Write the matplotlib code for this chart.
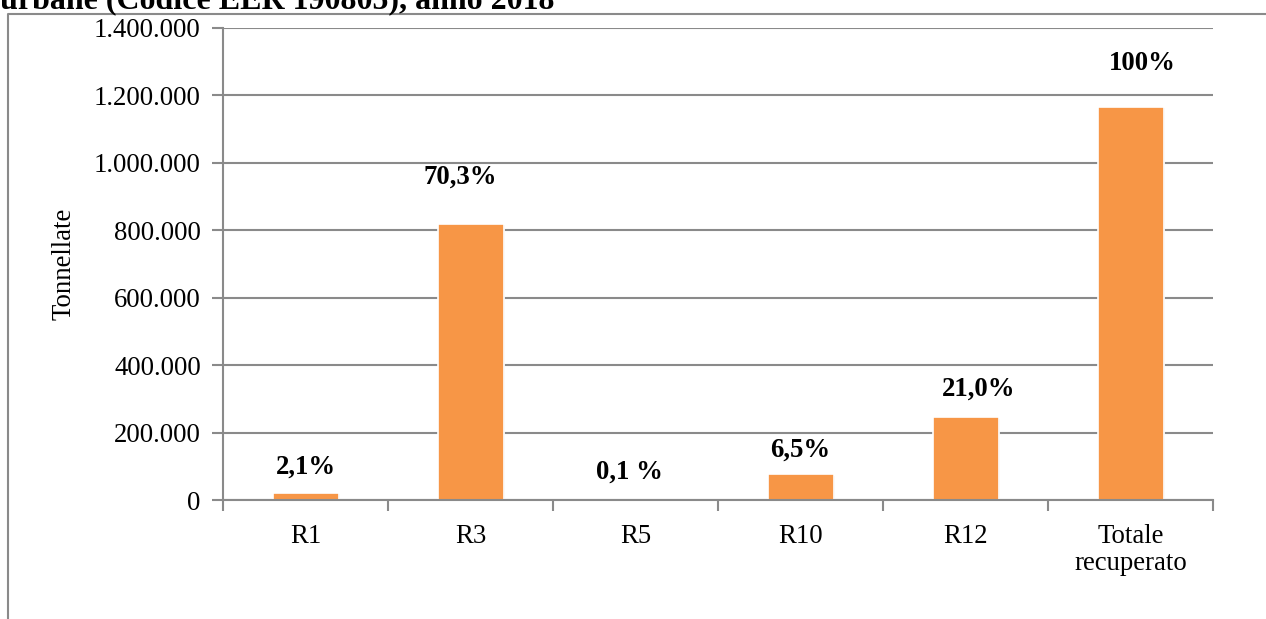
import matplotlib.pyplot as plt
from matplotlib.lines import Line2D
from matplotlib.ticker import FuncFormatter
import matplotlib.patheffects as pe

# data
categorie = ["R1", "R3", "R5", "R10", "R12", "Totale\nrecuperato"]
tonnellate = [21000, 820000, 1200, 75800, 245000, 1166000]
percentuali = ["2,1%", "70,3%", "0,1 %", "6,5%", "21,0%", "100%"]

# label offsets (pixels) from bar top centre to label centre
label_dx = [0, -10, -6, 0, 13, 12]
label_dy = [26, 46, 27, 24, 28, 43]

plt.rcParams['font.family'] = ['Liberation Serif', 'DejaVu Serif']
fs = 19.3

fig = plt.figure(figsize=(12.66, 6.19), dpi=100)
ax = fig.add_axes([223/1266, 1 - 500/619, (1213 - 223)/1266, (500 - 28)/619])

grigio = '#8a8a8a'
x = range(len(categorie))
ax.bar(x, tonnellate, width=0.40, color='#F79646', edgecolor='white', linewidth=1.2, zorder=3,
       path_effects=[pe.SimplePatchShadow(offset=(1, -1), shadow_rgbFace='#bbbbbb', alpha=0.5), pe.Normal()])

for i, (v, p) in enumerate(zip(tonnellate, percentuali)):
    ax.annotate(p, (i, v), xytext=(label_dx[i] * 0.72, label_dy[i] * 0.72), textcoords='offset points',
                ha='center', va='center', fontsize=fs, fontweight='bold', zorder=4)

ax.set_ylim(0, 1400000)
ax.set_xlim(-0.5, len(categorie) - 0.5)
ax.set_yticks(range(0, 1400001, 200000))
ax.yaxis.set_major_formatter(FuncFormatter(lambda v, _: f"{int(v):,}".replace(",", ".")))
ax.set_xticks(x)
ax.set_xticklabels(categorie, fontsize=fs, linespacing=1.12)
ax.set_xticks([i - 0.5 for i in range(len(categorie) + 1)], minor=True)
ax.tick_params(axis='x', which='major', length=0, pad=17)
ax.tick_params(axis='x', which='minor', length=8, color=grigio, width=1.5)
ax.tick_params(axis='y', labelsize=fs, length=8, color=grigio, width=1.5, pad=8)

ax.grid(axis='y', color=grigio, linewidth=1.5, zorder=0)
for s in ['top', 'right']:
    ax.spines[s].set_visible(False)
for s in ['left', 'bottom']:
    ax.spines[s].set_color(grigio)
    ax.spines[s].set_linewidth(1.5)
    ax.spines[s].set_zorder(5)

ax.set_ylabel("Tonnellate", fontsize=fs)
ax.yaxis.set_label_coords(-146/990, 0.5)

# cornice esterna e titolo tagliato
fig.add_artist(Line2D([8/1266, 8/1266, 1.01], [-0.01, 1 - 14/619, 1 - 14/619],
                      transform=fig.transFigure, color=grigio, linewidth=1.5))
fig.text(0.0, 1 - 8/619, "urbane (Codice EER 190805), anno 2018",
         fontsize=23, fontweight='bold', va='baseline', ha='left')

plt.savefig("out.png", dpi=100)
